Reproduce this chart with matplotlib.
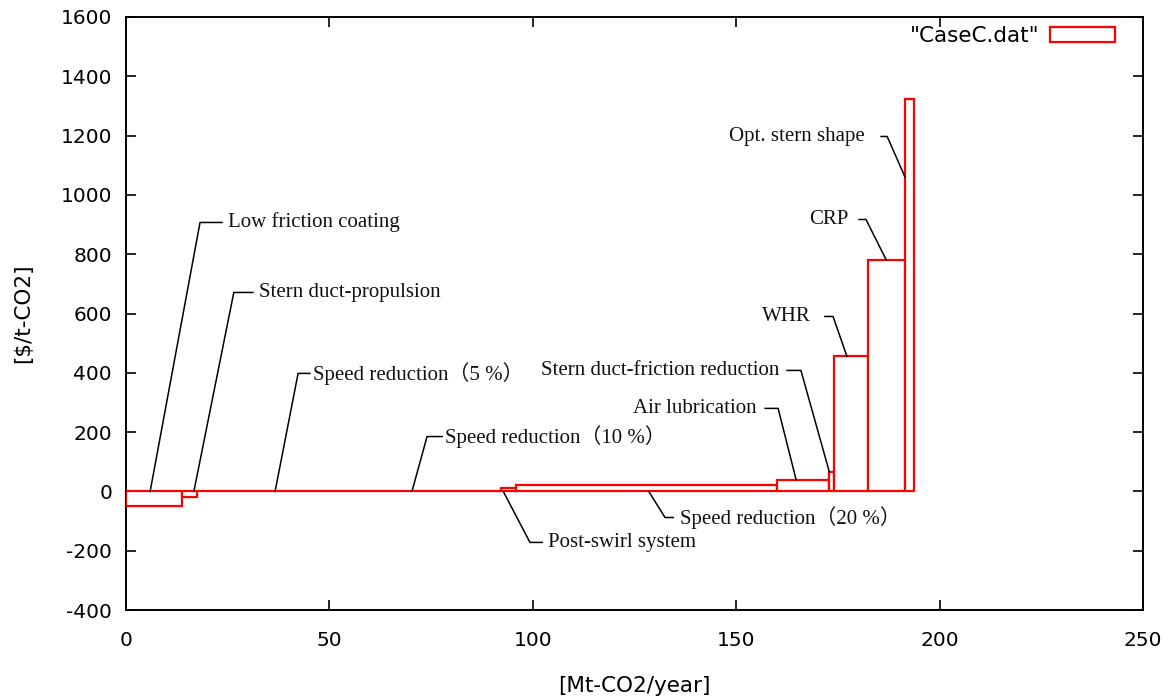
import matplotlib
matplotlib.use("Agg")
import matplotlib.pyplot as plt
from matplotlib.patches import Patch
import numpy as np

plt.rcParams["axes.unicode_minus"] = False

# Marginal abatement cost curve, case C
measures = [
    "Low friction coating",
    "Stern duct-propulsion",
    "Speed reduction（5 %）",
    "Speed reduction（10 %）",
    "Post-swirl system",
    "Speed reduction（20 %）",
    "Air lubrication",
    "Stern duct-friction reduction",
    "WHR",
    "CRP",
    "Opt. stern shape",
]
# CO2 reduction of each measure [Mt-CO2/year]
reduction = [13.8, 3.7, 38.3, 36.4, 3.6, 64.1, 13.0, 1.2, 8.2, 9.2, 2.2]
# Abatement cost of each measure [$/t-CO2]
cost = [-50, -20, 0, 3, 10, 22, 40, 65, 455, 780, 1325]

x_ticks = [0, 50, 100, 150, 200, 250]
y_ticks = [-400, -200, 0, 200, 400, 600, 800, 1000, 1200, 1400, 1600]

# Label placement: (knee x, knee y, end of horizontal stub x, text x, side,
#                   fraction along the bar, fraction up the bar for the pointer)
label_layout = [
    (18.2, 907, 23.6, 25.1, "left", 0.43, 1.0),
    (26.5, 671, 31.2, 32.6, "left", 0.78, 1.0),
    (42.3, 398, 45.2, 46.0, "left", 0.50, 1.0),
    (74.0, 185, 77.7, 78.5, "left", 0.40, 1.0),
    (99.3, -172, 102.3, 103.8, "left", 0.15, 0.0),
    (132.5, -88, 134.5, 136.3, "left", 0.51, 0.0),
    (160.3, 280, 157.1, 155.0, "right", 0.37, 1.0),
    (165.9, 408, 162.5, 160.6, "right", 0.0, 1.0),
    (173.8, 590, 171.8, 168.3, "right", 0.38, 1.0),
    (181.9, 917, 180.2, 177.6, "right", 0.50, 1.0),
    (187.1, 1197, 185.6, 181.7, "right", 0.0, 0.8),
]

serif = ["Liberation Serif", "Noto Sans CJK JP"]
sans = "DejaVu Sans"

fig = plt.figure(figsize=(11.72, 6.99), dpi=100)
ax = fig.add_axes([0.1075, 0.1273, 0.8678, 0.8484])

left = np.concatenate([[0.0], np.cumsum(reduction)[:-1]])
ax.bar(left, cost, width=reduction, align="edge", facecolor="white",
       edgecolor="#ff0000", linewidth=1.6, zorder=3)

for name, lay, x0, w, c in zip(measures, label_layout, left, reduction, cost):
    kx, ky, sx, tx, side, fx, fy = lay
    b = min(0, c)
    px = x0 + fx * w
    py = b + fy * abs(c)
    ax.plot([px, kx, sx], [py, ky, ky], color="black", lw=1.1, zorder=4)
    ha = "left" if side == "left" else "right"
    ax.text(tx, ky, name, ha=ha, va="center", fontsize=15, family=serif,
            color="#111111", zorder=5)

ax.set_xlim(0, 250)
ax.set_ylim(-400, 1600)
ax.set_xticks(x_ticks)
ax.set_yticks(y_ticks)
ax.tick_params(direction="in", length=7, width=1.2, top=True, right=True,
               labelsize=14.5, colors="black")
ax.tick_params(axis="x", pad=15)
ax.tick_params(axis="y", pad=10)
for lbl in ax.get_xticklabels() + ax.get_yticklabels():
    lbl.set_family(sans)
for s in ax.spines.values():
    s.set_linewidth(1.4)
    s.set_color("black")

ax.set_xlabel("[Mt-CO2/year]", fontsize=15.5, family=sans, labelpad=19)
ax.set_ylabel(r"[\$/t-CO2]", fontsize=15.5, family=sans, labelpad=20)

handle = Patch(facecolor="white", edgecolor="#ff0000", linewidth=1.6)
ax.legend([handle], ['"CaseC.dat"'], loc="upper right",
          bbox_to_anchor=(0.9725, 0.985), frameon=False, markerfirst=False,
          handlelength=3.0, handleheight=0.7, handletextpad=0.5,
          borderpad=0, borderaxespad=0,
          prop={"family": sans, "size": 15.5})

fig.savefig("out.png", dpi=100)
